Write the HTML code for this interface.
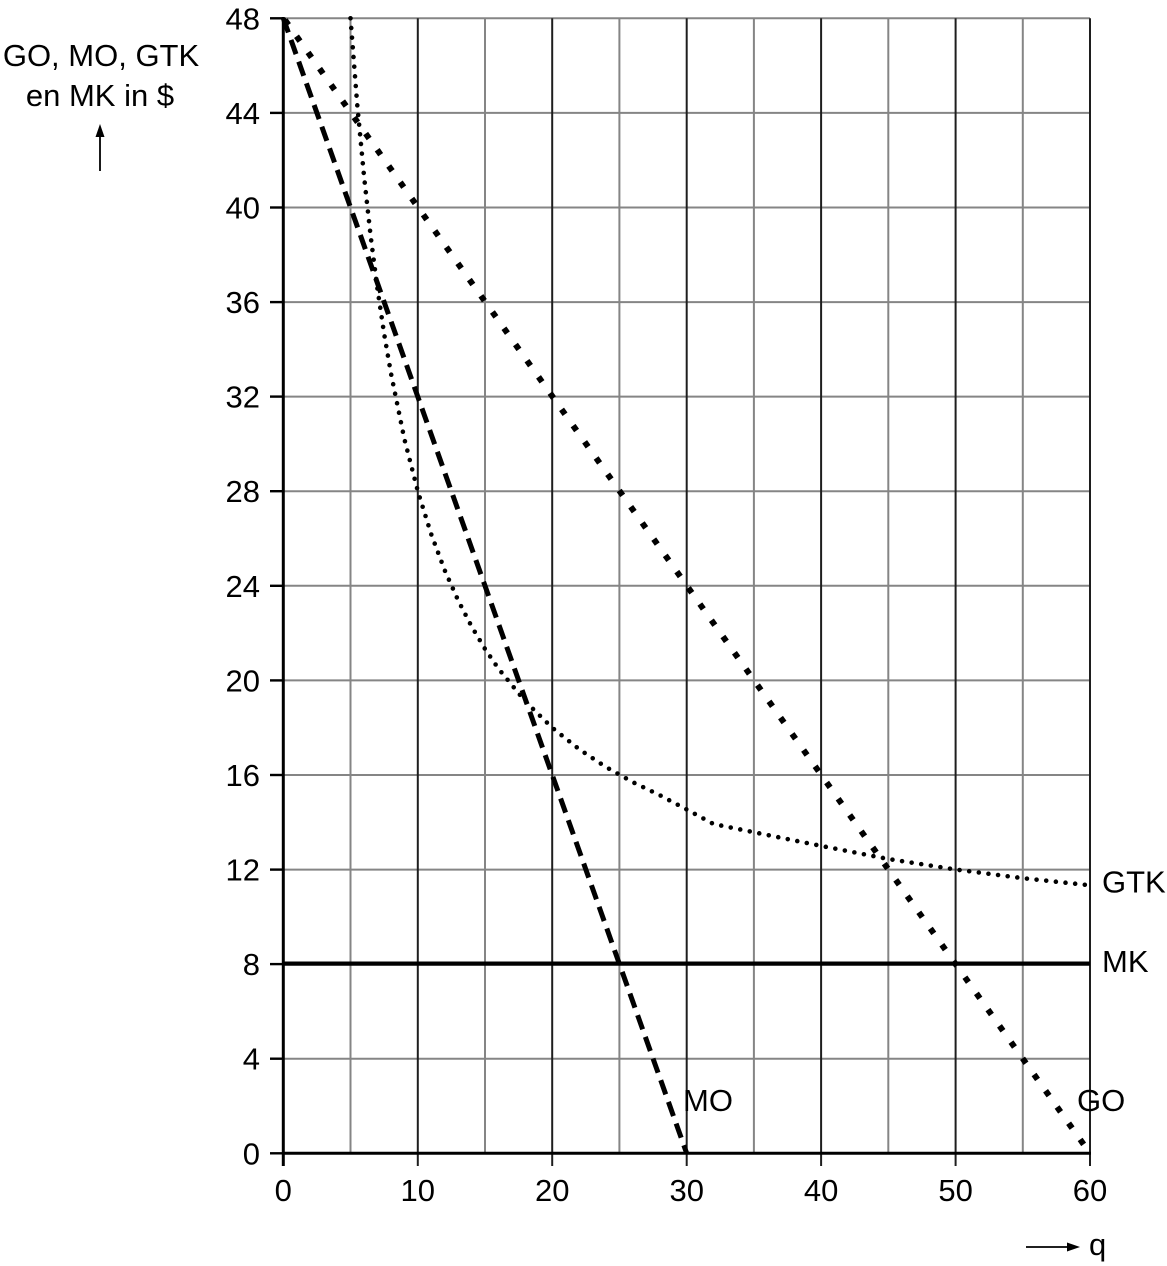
<!DOCTYPE html>
<html>
<head>
<meta charset="utf-8">
<style>
html,body{margin:0;padding:0;background:#fff;}
svg{display:block;}
text{font-family:"Liberation Sans",Arial,sans-serif;font-size:31px;fill:#000;}
</style>
</head>
<body>
<svg width="1167" height="1266" viewBox="0 0 1167 1266" xmlns="http://www.w3.org/2000/svg">
<!-- horizontal grid lines -->
<g stroke="#858585" stroke-width="2">
<line x1="283.3" y1="18.3" x2="1090" y2="18.3"/>
<line x1="283.3" y1="112.9" x2="1090" y2="112.9"/>
<line x1="283.3" y1="207.5" x2="1090" y2="207.5"/>
<line x1="283.3" y1="302.1" x2="1090" y2="302.1"/>
<line x1="283.3" y1="396.6" x2="1090" y2="396.6"/>
<line x1="283.3" y1="491.2" x2="1090" y2="491.2"/>
<line x1="283.3" y1="585.8" x2="1090" y2="585.8"/>
<line x1="283.3" y1="680.4" x2="1090" y2="680.4"/>
<line x1="283.3" y1="775.0" x2="1090" y2="775.0"/>
<line x1="283.3" y1="869.6" x2="1090" y2="869.6"/>
<line x1="283.3" y1="1058.7" x2="1090" y2="1058.7"/>
</g>
<!-- vertical grid lines at 5s -->
<g stroke="#858585" stroke-width="2">
<line x1="350.5" y1="18.3" x2="350.5" y2="1153.3"/>
<line x1="485.0" y1="18.3" x2="485.0" y2="1153.3"/>
<line x1="619.4" y1="18.3" x2="619.4" y2="1153.3"/>
<line x1="753.9" y1="18.3" x2="753.9" y2="1153.3"/>
<line x1="888.3" y1="18.3" x2="888.3" y2="1153.3"/>
<line x1="1022.8" y1="18.3" x2="1022.8" y2="1153.3"/>
</g>
<!-- vertical grid lines at 10s -->
<g stroke="#1e1e1e" stroke-width="2">
<line x1="417.8" y1="18.3" x2="417.8" y2="1166"/>
<line x1="552.2" y1="18.3" x2="552.2" y2="1166"/>
<line x1="686.7" y1="18.3" x2="686.7" y2="1166"/>
<line x1="821.1" y1="18.3" x2="821.1" y2="1166"/>
<line x1="955.6" y1="18.3" x2="955.6" y2="1166"/>
<line x1="1090" y1="18.3" x2="1090" y2="1166"/>
</g>
<!-- y ticks -->
<g stroke="#000" stroke-width="2.4">
<line x1="270" y1="18.3" x2="283.3" y2="18.3"/>
<line x1="270" y1="112.9" x2="283.3" y2="112.9"/>
<line x1="270" y1="207.5" x2="283.3" y2="207.5"/>
<line x1="270" y1="302.1" x2="283.3" y2="302.1"/>
<line x1="270" y1="396.6" x2="283.3" y2="396.6"/>
<line x1="270" y1="491.2" x2="283.3" y2="491.2"/>
<line x1="270" y1="585.8" x2="283.3" y2="585.8"/>
<line x1="270" y1="680.4" x2="283.3" y2="680.4"/>
<line x1="270" y1="775.0" x2="283.3" y2="775.0"/>
<line x1="270" y1="869.6" x2="283.3" y2="869.6"/>
<line x1="270" y1="964.1" x2="283.3" y2="964.1"/>
<line x1="270" y1="1058.7" x2="283.3" y2="1058.7"/>
<line x1="270" y1="1153.3" x2="283.3" y2="1153.3"/>
<line x1="283.3" y1="1153.3" x2="283.3" y2="1166"/>
</g>
<!-- axes -->
<line x1="283.3" y1="17" x2="283.3" y2="1166" stroke="#000" stroke-width="3"/>
<line x1="283.3" y1="1153.3" x2="1091" y2="1153.3" stroke="#000" stroke-width="3"/>
<!-- MK -->
<line x1="283.3" y1="963.6" x2="1090" y2="963.6" stroke="#000" stroke-width="4.2"/>
<!-- MO dashed -->
<line x1="283.3" y1="18.3" x2="686.7" y2="1153.3" stroke="#000" stroke-width="5" stroke-dasharray="15 8"/>
<!-- GO dotted squares -->
<line x1="285" y1="20" x2="1090" y2="1153.3" stroke="#000" stroke-width="6" stroke-dasharray="6 13.9"/>
<!-- GTK dotted -->
<polyline fill="none" stroke="#000" stroke-width="4.6" stroke-linecap="round" stroke-dasharray="0 9.7"
points="350.5,18.3 357.2,104.3 364.0,175.9 370.7,236.6 377.4,288.5 384.1,333.6 390.9,373.0 404.3,438.7 417.8,491.2 431.2,534.2 444.6,570.0 458.1,600.3 471.5,626.3 485.0,648.9 498.4,668.6 525.3,701.4 552.2,727.7 579.1,749.2 606.0,767.1 632.9,782.2 659.8,795.2 686.7,809.5 713.5,824.0 767.3,835.0 821.1,845.9 888.3,859.0 955.6,869.5 1022.8,878.2 1090,885.3"/>
<!-- y tick labels -->
<g text-anchor="end">
<text x="260" y="29.3">48</text>
<text x="260" y="123.9">44</text>
<text x="260" y="218.5">40</text>
<text x="260" y="313.1">36</text>
<text x="260" y="407.6">32</text>
<text x="260" y="502.2">28</text>
<text x="260" y="596.8">24</text>
<text x="260" y="691.4">20</text>
<text x="260" y="786.0">16</text>
<text x="260" y="880.6">12</text>
<text x="260" y="975.1">8</text>
<text x="260" y="1069.7">4</text>
<text x="260" y="1164.3">0</text>
</g>
<!-- x tick labels -->
<g text-anchor="middle">
<text x="283.3" y="1201">0</text>
<text x="417.8" y="1201">10</text>
<text x="552.2" y="1201">20</text>
<text x="686.7" y="1201">30</text>
<text x="821.1" y="1201">40</text>
<text x="955.6" y="1201">50</text>
<text x="1090" y="1201">60</text>
</g>
<!-- series labels -->
<text x="1102" y="892.5">GTK</text>
<text x="1102" y="972">MK</text>
<text x="1077" y="1111">GO</text>
<text x="683" y="1111">MO</text>
<!-- y axis title -->
<g text-anchor="middle">
<text x="101" y="66">GO, MO, GTK</text>
<text x="100" y="106">en MK in $</text>
</g>
<line x1="100" y1="171" x2="100" y2="134" stroke="#000" stroke-width="1.8"/>
<polygon points="100,124 95.5,137 104.5,137" fill="#000"/>
<!-- x axis title -->
<line x1="1026" y1="1247" x2="1070" y2="1247" stroke="#000" stroke-width="1.8"/>
<polygon points="1080,1247 1067,1242.5 1067,1251.5" fill="#000"/>
<text x="1089" y="1255">q</text>
</svg>
</body>
</html>
